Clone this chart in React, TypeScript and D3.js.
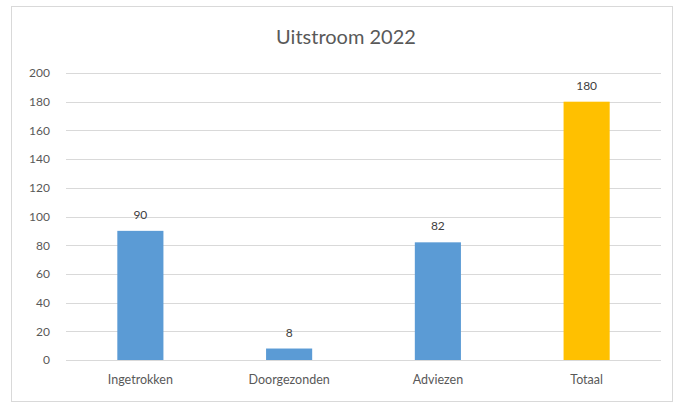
import React, { useRef, useEffect } from 'react';
import * as d3 from 'd3';

const categories = ['Ingetrokken', 'Doorgezonden', 'Adviezen', 'Totaal'];
const values = [90, 8, 82, 180];
const barColors = ['#5B9BD5', '#5B9BD5', '#5B9BD5', '#FFC000'];
const yTicks = [0, 20, 40, 60, 80, 100, 120, 140, 160, 180, 200];

const App = () => {
  const chartRef = useRef<SVGSVGElement>(null);

  useEffect(() => {
    const width = 684;
    const height = 405;
    const margin = { top: 73, right: 23, bottom: 45, left: 66 };
    const innerW = width - margin.left - margin.right;
    const innerH = height - margin.top - margin.bottom;
    const font = 'Lato, "Open Sans", sans-serif';

    const root = d3.select(chartRef.current);
    root.selectAll('*').remove();
    root.attr('width', width).attr('height', height);

    root
      .append('rect')
      .attr('x', 11.5)
      .attr('y', 6.5)
      .attr('width', 661)
      .attr('height', 395)
      .attr('fill', '#fff')
      .attr('stroke', '#D9D9D9');

    root
      .append('text')
      .attr('x', 346)
      .attr('y', 44)
      .attr('text-anchor', 'middle')
      .attr('font-family', font)
      .attr('font-size', 20)
      .attr('fill', '#595959')
      .text('Uitstroom 2022');

    const svg = root.append('g').attr('transform', `translate(${margin.left},${margin.top})`);

    const x = d3.scaleBand().domain(categories).range([0, innerW]).paddingInner(0.69).paddingOuter(0.345);
    const y = d3.scaleLinear().domain([0, 200]).range([innerH, 0]);

    svg
      .selectAll('.grid')
      .data(yTicks)
      .enter()
      .append('line')
      .attr('x1', 0)
      .attr('x2', innerW)
      .attr('y1', (d) => Math.round(y(d)) + 0.5)
      .attr('y2', (d) => Math.round(y(d)) + 0.5)
      .attr('stroke', '#D9D9D9');

    const yAxis = d3.axisLeft(y).tickValues(yTicks).tickSize(0).tickPadding(16);
    svg
      .append('g')
      .call(yAxis)
      .call((g) => g.select('.domain').remove())
      .selectAll('text')
      .attr('font-family', font)
      .attr('font-size', 12)
      .attr('fill', '#595959');

    svg
      .selectAll('.bar')
      .data(values)
      .enter()
      .append('rect')
      .attr('x', (d, i) => x(categories[i])!)
      .attr('width', x.bandwidth())
      .attr('y', (d) => y(d))
      .attr('height', (d) => innerH - y(d))
      .attr('fill', (d, i) => barColors[i]);

    svg
      .selectAll('.label')
      .data(values)
      .enter()
      .append('text')
      .attr('x', (d, i) => x(categories[i])! + x.bandwidth() / 2)
      .attr('y', (d) => y(d) - 12)
      .attr('text-anchor', 'middle')
      .attr('font-family', font)
      .attr('font-size', 12)
      .attr('fill', '#404040')
      .text((d) => d);

    const xAxis = d3.axisBottom(x).tickSize(0).tickPadding(15);
    svg
      .append('g')
      .attr('transform', `translate(0,${innerH})`)
      .call(xAxis)
      .call((g) => g.select('.domain').remove())
      .selectAll('text')
      .attr('font-family', font)
      .attr('font-size', 12.5)
      .attr('fill', '#595959');
  }, []);

  return <svg ref={chartRef} style={{ position: 'absolute', left: 0, top: 0 }}></svg>;
};

export default App;
